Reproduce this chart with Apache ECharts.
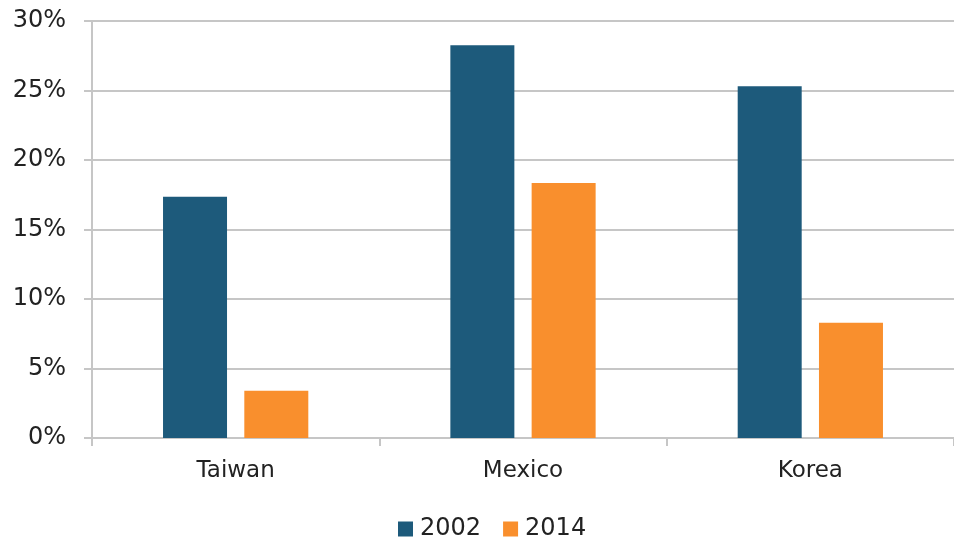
<!DOCTYPE html>
<html>
<head>
<meta charset="utf-8">
<script src="https://cdn.jsdelivr.net/npm/echarts@6/dist/echarts.min.js"></script>
<style>
  html, body { margin: 0; padding: 0; background: #ffffff; }
  #chart { width: 954px; height: 540px; }
</style>
</head>
<body>
<div id="chart"></div>
<script>
// Share of each economy, by year (percent)
const categories = ['Taiwan', 'Mexico', 'Korea'];
const values2002 = [17.35, 28.25, 25.3];
const values2014 = [3.4, 18.35, 8.3];
const seriesNames = ['2002', '2014'];
const yTicks = { min: 0, max: 30, interval: 5 };

const axisGrey = '#c6c6c6';
const textColor = '#222222';
const font = '"DejaVu Sans", sans-serif';

const chart = echarts.init(document.getElementById('chart'), null, { renderer: 'canvas' });
chart.setOption({
  animation: false,
  backgroundColor: '#ffffff',
  grid: { left: 92, right: 0, top: 21, bottom: 102, containLabel: false },
  legend: {
    data: seriesNames,
    top: 517,
    left: 393,
    padding: [0, 5],
    itemWidth: 15,
    itemHeight: 15,
    itemGap: 22,
    icon: 'rect',
    textStyle: { fontFamily: font, fontSize: 24, color: textColor, padding: [0, 0, 0, 2] }
  },
  xAxis: {
    type: 'category',
    data: categories,
    boundaryGap: true,
    axisLine: { show: true, lineStyle: { color: axisGrey, width: 2 } },
    axisTick: { show: true, length: 8, alignWithLabel: false, lineStyle: { color: axisGrey, width: 2 } },
    axisLabel: { fontFamily: font, fontSize: 23, color: textColor, margin: 22 }
  },
  yAxis: {
    type: 'value',
    min: yTicks.min,
    max: yTicks.max,
    interval: yTicks.interval,
    axisLine: { show: true, lineStyle: { color: axisGrey, width: 2 } },
    axisTick: { show: true, length: 8, lineStyle: { color: axisGrey, width: 2 } },
    splitLine: { show: true, lineStyle: { color: axisGrey, width: 2 } },
    axisLabel: {
      fontFamily: font, fontSize: 24, color: textColor, margin: 26,
      formatter: v => v + '%'
    }
  },
  series: [
    {
      name: seriesNames[0],
      type: 'bar',
      data: values2002,
      barWidth: 64,
      barGap: '27%',
      itemStyle: { color: '#1d5a7b' }
    },
    {
      name: seriesNames[1],
      type: 'bar',
      data: values2014,
      barWidth: 64,
      barGap: '27%',
      itemStyle: { color: '#f98f2d' }
    }
  ]
});
</script>
</body>
</html>
